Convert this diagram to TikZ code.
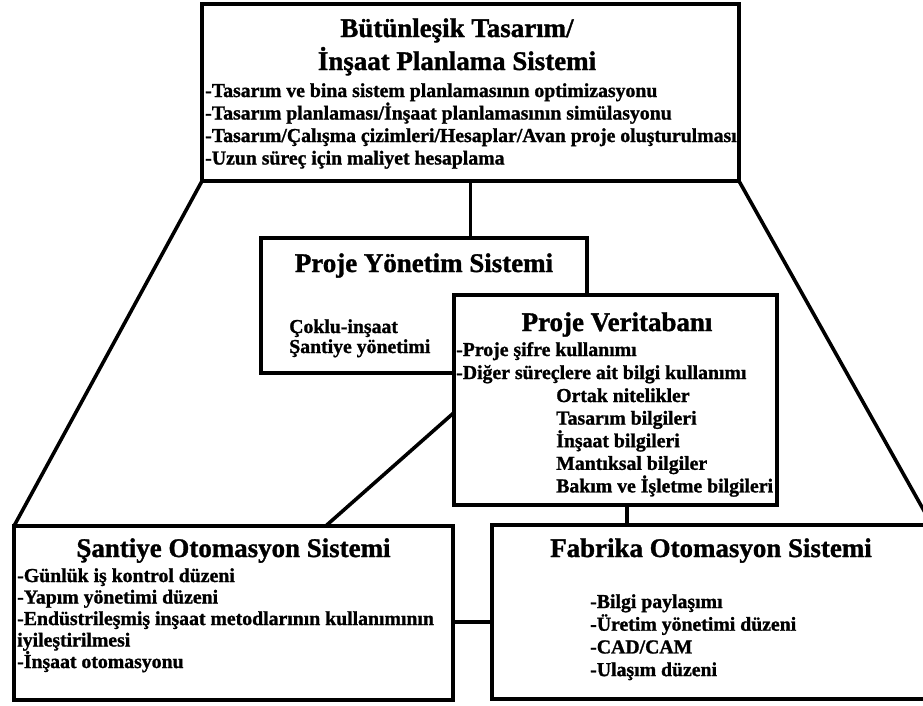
\documentclass[tikz,border=0pt]{standalone}
\usepackage{fontspec}
\setmainfont{Liberation Serif}[BoldFeatures={FakeBold=1.2}]
\usetikzlibrary{fit,calc}
\begin{document}
\begin{tikzpicture}[x=0.0265cm,y=-0.0265cm,
  panel/.style={draw=black, line width=3.7pt, fill=white, inner sep=0pt, outer sep=0pt},
  link/.style={draw=black, line width=2.7pt},
  head/.style={font=\fontsize{20.3}{23}\selectfont\bfseries, inner sep=0pt, anchor=base},
  item/.style={font=\fontsize{14.9}{17}\selectfont\bfseries, inner sep=0pt, anchor=base west}]
\useasboundingbox (0,0) rectangle (923,705);
\clip (0,0) rectangle (923,705);

% panels
\node[panel, fit={(202,4) (739,181)}] (plan) {};
\node[panel, fit={(14,526) (453,700)}] (site) {};
\node[panel, fit={(492,525) (932,699)}] (factory) {};
\node[panel, fit={(261,238) (587,373)}] (pm) {};
\node[panel, fit={(454,295) (777,505)}] (db) {};

% connectors
\draw[link] (plan.south west) -- (site.north west);
\draw[link] (plan.south east) -- (factory.north east);
\draw[link] (plan.south) -- (plan.south |- pm.north);
\coordinate (dbL) at ($(db.north west)!0.56!(db.south west)$);
\coordinate (siteT) at ($(site.north west)!0.71!(site.north east)$);
\draw[link] (dbL) -- (siteT);
\coordinate (dbB) at ($(db.south west)!0.536!(db.south east)$);
\draw[link] (dbB) -- (dbB |- factory.north);
\coordinate (siteR) at ($(site.north east)!0.55!(site.south east)$);
\draw[link] (siteR) -- (siteR -| factory.west);

% integrated design / construction planning system
\node[head] (planT1) at (457,37) {Bütünleşik Tasarım/};
\node[head] (planT2) at (457,70) {İnşaat Planlama Sistemi};
\foreach \t [count=\i] in {
  -Tasarım ve bina sistem planlamasının optimizasyonu,
  -Tasarım planlaması/İnşaat planlamasının simülasyonu,
  -Tasarım/Çalışma çizimleri/Hesaplar/Avan proje oluşturulması,
  -Uzun süreç için maliyet hesaplama}
  \node[item] (planL\i) at (205,{97+22.5*(\i-1)}) {\t};

% project management system
\node[head] (pmT) at (424,272) {Proje Yönetim Sistemi};
\node[item] (pmL1) at (289,333) {Çoklu-inşaat};
\node[item] (pmL2) at (289,353) {Şantiye yönetimi};

% project database
\node[head] (dbT) at (617,331) {Proje Veritabanı};
\node[item] (dbL1) at (456,356) {-Proje şifre kullanımı};
\node[item] (dbL2) at (456,379) {-Diğer süreçlere ait bilgi kullanımı};
\foreach \t [count=\i] in {Ortak nitelikler, Tasarım bilgileri, İnşaat bilgileri,
  Mantıksal bilgiler, Bakım ve İşletme bilgileri}
  \node[item] (dbS\i) at (556,{402+22.6*(\i-1)}) {\t};

% site automation system
\node[head] (siteT) at (233.5,557) {Şantiye Otomasyon Sistemi};
\foreach \t [count=\i] in {
  -Günlük iş kontrol düzeni,
  -Yapım yönetimi düzeni,
  -Endüstrileşmiş inşaat metodlarının kullanımının,
  iyileştirilmesi,
  -İnşaat otomasyonu}
  \node[item] (siteL\i) at (17,{582+21.5*(\i-1)}) {\t};

% factory automation system
\node[head] (factoryT) at (711,557) {Fabrika Otomasyon Sistemi};
\foreach \t [count=\i] in {
  -Bilgi paylaşımı,
  -Üretim yönetimi düzeni,
  -CAD/CAM,
  -Ulaşım düzeni}
  \node[item] (factoryL\i) at (590,{608+22.7*(\i-1)}) {\t};
\end{tikzpicture}
\end{document}
